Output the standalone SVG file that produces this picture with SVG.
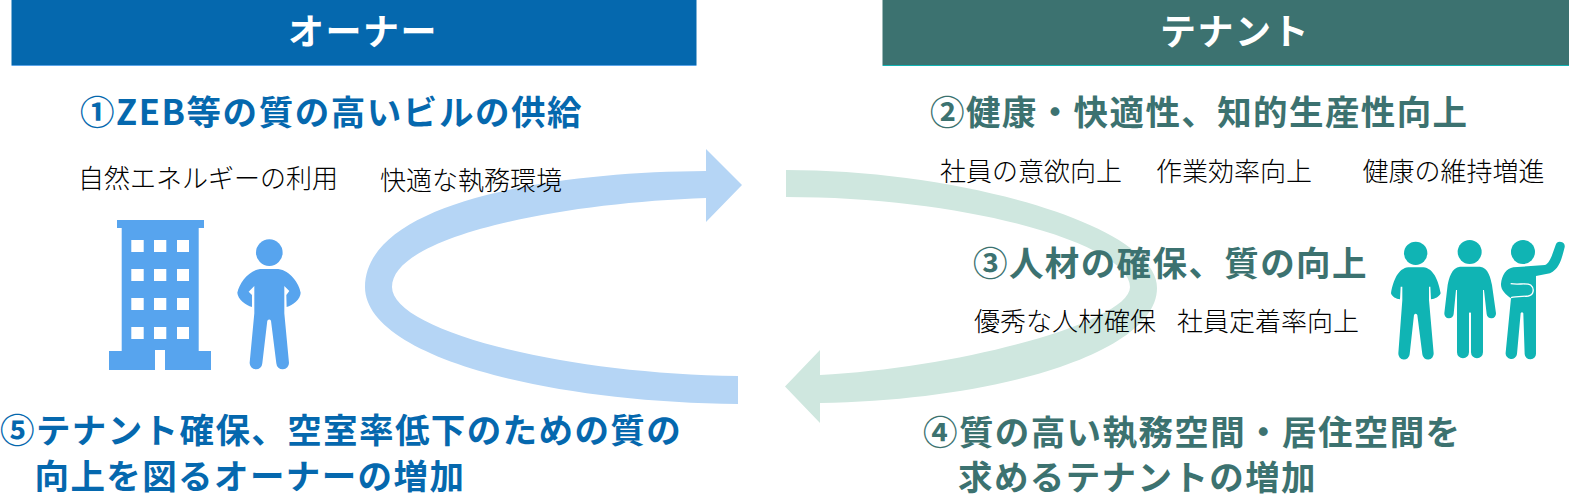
<svg xmlns="http://www.w3.org/2000/svg" width="1569" height="494" viewBox="0 0 1569 494">
<style>
text{font-family:"Noto Sans CJK JP","Noto Sans",sans-serif}
.title{font-size:36px;font-weight:700;fill:#fff;text-anchor:middle;letter-spacing:1.5px}
.hb{font-size:34.500px;font-weight:700;fill:#0568ae;letter-spacing:1.400px}
.hg{font-size:34.500px;font-weight:700;fill:#3c7270;letter-spacing:1.400px}
.t{font-size:26px;font-weight:300;fill:#000}
.pb{fill:#57a4ee}
.pt{fill:#10b4b4}
</style>
<g id="connectors">
<path id="arrow-blue" fill="#b5d5f5" d="M706 149L742 185L706 222V198C560 203 392 236 392 287C392 330 560 374 738 376V404C540 402 365 355 365 287C365 205 540 172 706 171Z"/>
<path id="arrow-green" fill="#cfe7df" d="M786 170C960 170 1157 225 1157 288C1157 352 1000 400 820 403V423L785 386.500L820 350V375C960 368 1130 322 1130 287C1130 245 970 197 786 197Z"/>
</g>
<g id="owner-header"><rect x="11.500" y="0" width="685" height="65" fill="#0568ae"/><rect x="11.500" y="65" width="685" height="1" fill="#5ba4e8"/><text class="title" x="363" y="45">オーナー</text></g>
<g id="tenant-header"><rect x="882.500" y="0" width="686.500" height="65" fill="#3c7270"/><rect x="882.500" y="65" width="686.500" height="1" fill="#10b4b4"/><text class="title" x="1235" y="45">テナント</text></g>
<g id="step1"><text class="hb" x="80" y="125" style="letter-spacing:1.550px">①ZEB等の質の高いビルの供給</text>
<text class="t" x="78" y="188">自然エネルギーの利用</text><text class="t" x="380" y="190">快適な執務環境</text></g>
<g id="step2"><text class="hg" x="930" y="125">②健康・快適性、知的生産性向上</text>
<text class="t" x="940" y="181">社員の意欲向上</text><text class="t" x="1156" y="181">作業効率向上</text><text class="t" x="1362.500" y="181">健康の維持増進</text></g>
<g id="step3"><text class="hg" x="973" y="276">③人材の確保、質の向上</text>
<text class="t" x="974" y="331">優秀な人材確保</text><text class="t" x="1177" y="331">社員定着率向上</text></g>
<g id="step4"><text class="hg" x="923" y="445">④質の高い執務空間・居住空間を</text><text class="hg" x="958" y="490">求めるテナントの増加</text></g>
<g id="step5"><text class="hb" x="0" y="443">⑤テナント確保、空室率低下のための質の</text><text class="hb" x="34.500" y="489">向上を図るオーナーの増加</text></g>
<g id="building">
<path class="pb" fill-rule="evenodd" d="M117 220H204V228H198.700V351H211V370H165V350H155V370H109V351H121.700V228H117ZM131.300 240V252H143.700V240ZM154 240V252H166.300V240ZM177 240V252H189V240ZM131.300 269V281H143.700V269ZM154 269V281H166.300V269ZM177 269V281H189V269ZM131.300 298V310H143.700V298ZM154 298V310H166.300V298ZM177 298V310H189V298ZM131.300 327V339H143.700V327ZM154 327V339H166.300V327ZM177 327V339H189V327Z"/>
</g>
<g id="owner-person" transform="translate(90 200) scale(.3333)">
<circle class="pb" cx="538" cy="158" r="40"/>
<path class="pb" d="M510 207H565C600 212 628 250 632 278C632 297 608 316 590 321L589 285L598 273L583 258V340L597 488A19 19 0 0 1 559 490L543 362Q538 355 532 362L517 490A19 19 0 0 1 479 488L493 340V258L476 275L486 285V321C468 316 443 297 442 278C448 250 475 212 510 207Z"/>
</g>
<g id="tenant-people" transform="translate(1380 230) scale(.3333)">
<circle class="pt" cx="107" cy="70" r="35"/>
<path class="pt" d="M85 112H130C160 115 175 150 182 190C178 200 165 207 153 208L151 170H147V210L161 370A17 17 0 0 1 127 373L112 255Q107 248 102 255L89 373A17 17 0 0 1 55 370L67 210V170H62L60 208C48 207 36 200 33 190C40 150 55 115 85 112Z"/>
<circle class="pt" cx="269" cy="66" r="36"/>
<path class="pt" d="M240 110H300C325 112 332 145 336 165L348 250A14 14 0 0 1 320 252L312 180H309V367A18 18 0 0 1 273 367V250Q270 244 267 250V367A18 18 0 0 1 231 367V180H228L221 252A14 14 0 0 1 193 250L203 165C207 145 215 112 240 110Z"/>
<circle class="pt" cx="429" cy="66" r="36"/>
<path class="pt" d="M400 112L495 105C510 100 518 70 527 45A14 14 0 0 1 554 52C545 85 540 115 510 130L468 138V370A17 17 0 0 1 434 372L430 250Q426 243 422 250L411 372A17 17 0 0 1 377 368L393 205C378 195 362 180 363 162C365 135 380 115 400 112Z"/>
<path fill="none" stroke="#fff" stroke-width="4" d="M392 161C415 165 440 158 452 165C464 175 462 195 445 198C430 200 410 198 393 203"/>
</g>
</svg>
